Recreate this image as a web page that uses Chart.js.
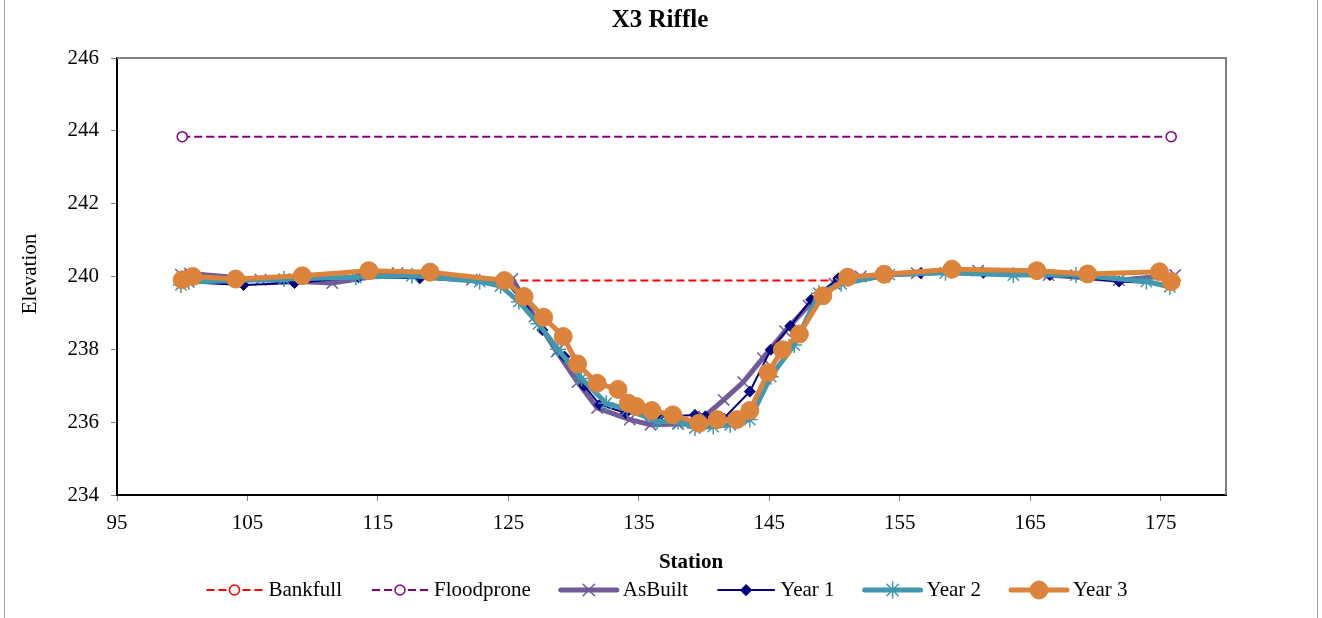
<!DOCTYPE html>
<html>
<head>
<meta charset="utf-8">
<title>X3 Riffle</title>
<script src="https://cdn.jsdelivr.net/npm/chart.js@4"></script>
<style>
  html, body { margin: 0; padding: 0; background: #fff; }
  #wrap { width: 1322px; height: 618px; position: relative; }
</style>
</head>
<body>
<div id="wrap"><canvas id="riffle" width="1322" height="618"></canvas></div>
<script>
// Axis ticks
const xTicks = [95, 105, 115, 125, 135, 145, 155, 165, 175];
const yTicks = [234, 236, 238, 240, 242, 244, 246];

// Bankfull / floodprone reference lines
const bankfullStation = [125.0, 150.3];
const bankfullElev = [239.89, 239.89];
const floodproneStation = [100.0, 175.8];
const floodproneElev = [243.84, 243.84];

// As-built survey
const asBuiltStation = [99.9, 100.6, 106.0, 111.5, 116.5, 122.2, 125.3, 127.0, 128.7, 130.3, 131.8, 134.3, 135.9, 138.0, 140.0, 141.5, 143.0, 144.5, 146.2, 148.0, 150.0, 152.0, 156.3, 161.0, 166.4, 171.8, 176.1];
const asBuiltElev = [240.05, 240.08, 239.91, 239.82, 240.10, 239.91, 239.93, 238.90, 237.94, 237.10, 236.39, 236.07, 235.93, 235.95, 236.15, 236.61, 237.10, 237.76, 238.50, 239.20, 239.80, 240.00, 240.09, 240.16, 240.04, 239.90, 240.04];

// Year 1 survey
const year1Station = [100.0, 104.7, 108.6, 113.5, 118.2, 124.9, 126.2, 127.6, 129.3, 130.8, 132.0, 134.0, 136.5, 139.3, 140.1, 141.5, 143.5, 145.1, 146.6, 148.2, 150.3, 156.6, 161.4, 166.5, 171.8, 175.7];
const year1Elev = [239.85, 239.77, 239.82, 239.98, 239.95, 239.80, 239.30, 238.53, 237.80, 237.00, 236.48, 236.25, 236.15, 236.20, 236.16, 236.10, 236.84, 237.99, 238.64, 239.36, 239.95, 240.09, 240.10, 240.04, 239.86, 239.80];

// Year 2 survey
const year2Station = [99.9, 100.5, 107.8, 113.3, 117.6, 122.8, 124.4, 125.8, 127.3, 128.8, 130.6, 132.5, 134.1, 136.4, 138.0, 139.3, 140.7, 142.0, 143.5, 145.1, 146.9, 148.8, 150.5, 154.2, 158.5, 163.7, 168.5, 173.9, 175.7];
const year2Elev = [239.77, 239.85, 239.93, 239.98, 240.02, 239.86, 239.74, 239.31, 238.70, 238.00, 237.20, 236.52, 236.35, 236.02, 236.02, 235.84, 235.88, 235.93, 236.07, 237.25, 238.12, 239.54, 239.80, 240.05, 240.10, 240.04, 240.04, 239.86, 239.72];

// Year 3 survey
const year3Station = [100.0, 100.8, 104.1, 109.2, 114.3, 119.0, 124.7, 126.2, 127.7, 129.2, 130.3, 131.8, 133.4, 134.2, 134.8, 136.0, 137.6, 139.6, 141.0, 142.5, 143.5, 144.9, 146.0, 147.3, 149.1, 151.0, 153.8, 159.0, 165.5, 169.4, 174.9, 175.8];
const year3Elev = [239.91, 240.00, 239.93, 240.02, 240.16, 240.12, 239.89, 239.45, 238.88, 238.35, 237.60, 237.07, 236.90, 236.52, 236.43, 236.32, 236.20, 235.97, 236.07, 236.07, 236.32, 237.36, 237.99, 238.42, 239.47, 239.98, 240.06, 240.20, 240.16, 240.07, 240.13, 239.86];

const FONT = '"Liberation Serif", "Times New Roman", serif';

function toPoints(xs, ys) {
    return xs.map((x, i) => ({ x: x, y: ys[i] }));
}

const series = [
    { label: 'Bankfull', xs: bankfullStation, ys: bankfullElev, color: '#ff0000', width: 2, dash: [8, 4],
      pointStyle: 'circle', radius: 5, fill: '#ffffff', pointBorder: 1.5, order: 5 },
    { label: 'Floodprone', xs: floodproneStation, ys: floodproneElev, color: '#800080', width: 2, dash: [8, 4],
      pointStyle: 'circle', radius: 5, fill: '#ffffff', pointBorder: 1.5, order: 4 },
    { label: 'AsBuilt', xs: asBuiltStation, ys: asBuiltElev, color: '#715a98', width: 5, dash: [],
      pointStyle: 'crossRot', radius: 8, fill: '#715a98', pointBorder: 1.5, order: 3 },
    { label: 'Year 1', xs: year1Station, ys: year1Elev, color: '#000080', width: 2, dash: [],
      pointStyle: 'rectRot', radius: 5.5, fill: '#000080', pointBorder: 1, order: 2 },
    { label: 'Year 2', xs: year2Station, ys: year2Elev, color: '#4198af', width: 5, dash: [],
      pointStyle: 'star', radius: 8, fill: '#4198af', pointBorder: 1.5, order: 1 },
    { label: 'Year 3', xs: year3Station, ys: year3Elev, color: '#dc843c', width: 5, dash: [],
      pointStyle: 'circle', radius: 9, fill: '#dc843c', pointBorder: 1, order: 0 }
];

// Frame, titles, legend and page border drawn on top of the chart
const decorations = {
    id: 'decorations',
    beforeDatasetsDraw(chart) {
        const { ctx, chartArea: a } = chart;
        ctx.save();
        // grey frame top / right
        ctx.strokeStyle = '#808080';
        ctx.lineWidth = 2;
        ctx.beginPath();
        ctx.moveTo(a.left, a.top);
        ctx.lineTo(a.right, a.top);
        ctx.lineTo(a.right, a.bottom);
        ctx.stroke();
        ctx.restore();
    },
    afterDraw(chart) {
        const { ctx } = chart;
        ctx.save();

        // page border
        ctx.strokeStyle = '#a0a0a0';
        ctx.lineWidth = 1;
        ctx.beginPath();
        ctx.moveTo(4.5, 0); ctx.lineTo(4.5, 618);
        ctx.moveTo(1317.5, 0); ctx.lineTo(1317.5, 618);
        ctx.stroke();

        // title
        ctx.fillStyle = '#000';
        ctx.textAlign = 'center';
        ctx.textBaseline = 'middle';
        ctx.font = 'bold 25px ' + FONT;
        ctx.fillText('X3 Riffle', 660, 21);

        // axis titles
        ctx.font = 'bold 21px ' + FONT;
        ctx.fillText('Station', 691, 563);
        ctx.save();
        ctx.translate(30, 274);
        ctx.rotate(-Math.PI / 2);
        ctx.font = '21px ' + FONT;
        ctx.fillText('Elevation', 0, 0);
        ctx.restore();

        // legend
        ctx.font = '21px ' + FONT;
        const lineLen = 56, textGap = 6, itemGap = 30, legendY = 590;
        const widths = series.map(s => lineLen + textGap + ctx.measureText(s.label).width);
        const total = widths.reduce((t, w) => t + w, 0) + itemGap * (series.length - 1);
        let x = 667 - total / 2;
        series.forEach((s, i) => {
            ctx.save();
            ctx.strokeStyle = s.color;
            ctx.lineWidth = s.width;
            ctx.lineCap = s.dash.length ? 'butt' : 'round';
            ctx.setLineDash(s.dash);
            ctx.beginPath();
            ctx.moveTo(x, legendY);
            ctx.lineTo(x + lineLen, legendY);
            ctx.stroke();
            ctx.setLineDash([]);
            ctx.fillStyle = s.fill;
            ctx.strokeStyle = s.color;
            ctx.lineWidth = s.pointBorder;
            Chart.helpers.drawPoint(ctx, {
                pointStyle: s.pointStyle, radius: s.radius, borderWidth: s.pointBorder, rotation: 0
            }, x + lineLen / 2, legendY);
            ctx.restore();
            ctx.fillStyle = '#000';
            ctx.textAlign = 'left';
            ctx.textBaseline = 'middle';
            ctx.fillText(s.label, x + lineLen + textGap, legendY);
            x += widths[i] + itemGap;
        });

        ctx.restore();
    }
};

const ctx = document.getElementById('riffle').getContext('2d');

new Chart(ctx, {
    type: 'scatter',
    data: {
        datasets: series.map(s => ({
            label: s.label,
            data: toPoints(s.xs, s.ys),
            showLine: true,
            borderColor: s.color,
            backgroundColor: s.fill,
            borderWidth: s.width,
            borderDash: s.dash,
            pointStyle: s.pointStyle,
            pointRadius: s.radius,
            pointBorderColor: s.color,
            pointBackgroundColor: s.fill,
            pointBorderWidth: s.pointBorder,
            pointHoverRadius: s.radius,
            order: s.order,
            tension: 0
        }))
    },
    options: {
        responsive: false,
        animation: false,
        devicePixelRatio: 1,
        layout: { padding: { left: 0, top: 58, right: 96, bottom: 0 } },
        plugins: {
            legend: { display: false },
            title: { display: false },
            tooltip: { enabled: false }
        },
        scales: {
            x: {
                type: 'linear',
                min: 95,
                max: 180,
                afterBuildTicks: axis => { axis.ticks = xTicks.map(v => ({ value: v })); },
                afterFit: axis => { axis.height = 123; },
                grid: { drawOnChartArea: false, drawTicks: true, tickLength: 6, color: '#808080' },
                border: { display: true, color: '#000', width: 2 },
                ticks: { color: '#000', padding: 10, maxRotation: 0, font: { family: FONT, size: 21 } }
            },
            y: {
                type: 'linear',
                min: 234,
                max: 246,
                afterBuildTicks: axis => { axis.ticks = yTicks.map(v => ({ value: v })); },
                afterFit: axis => { axis.width = 117; },
                grid: { drawOnChartArea: false, drawTicks: true, tickLength: 6, color: '#808080' },
                border: { display: true, color: '#000', width: 2 },
                ticks: { color: '#000', padding: 12, font: { family: FONT, size: 21 } }
            }
        }
    },
    plugins: [decorations]
});
</script>
</body>
</html>
